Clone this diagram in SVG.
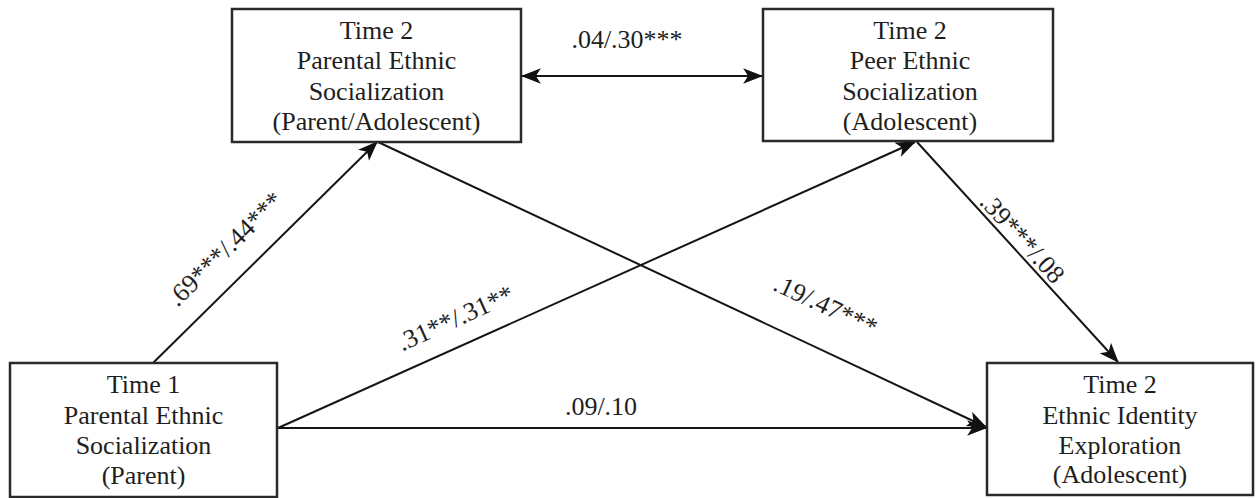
<svg xmlns="http://www.w3.org/2000/svg" width="1257" height="498" viewBox="0 0 1257 498">
  <style>
    .box { fill: #ffffff; stroke: #2a2a2a; stroke-width: 2.5; }
    .lbl { font-family: "Liberation Serif", "Times New Roman", serif; font-size: 26px; fill: #1e1e1e; text-anchor: middle; }
    .edge { stroke: #151515; stroke-width: 2; fill: none; }
  </style>
  <defs>
    <marker id="ah" markerUnits="userSpaceOnUse" markerWidth="20" markerHeight="16" viewBox="0 0 18 14" refX="17" refY="7" orient="auto-start-reverse">
      <path d="M0,0 L18,7 L0,14 L4.5,7 Z" fill="#111111"/>
    </marker>
  </defs>
  <rect width="1257" height="498" fill="#ffffff"/>

  <g id="connectors">
    <line class="edge" x1="153" y1="363" x2="377" y2="142" marker-end="url(#ah)"/>
    <line class="edge" x1="278" y1="428" x2="915" y2="142" marker-end="url(#ah)"/>
    <line class="edge" x1="277" y1="428" x2="986" y2="428" marker-end="url(#ah)"/>
    <line class="edge" x1="378" y1="142" x2="986" y2="427" marker-end="url(#ah)"/>
    <line class="edge" x1="917" y1="142" x2="1118" y2="362" marker-end="url(#ah)"/>
    <line class="edge" x1="522" y1="76" x2="762" y2="76" marker-start="url(#ah)" marker-end="url(#ah)"/>
    <text class="lbl" x="627" y="48">.04/.30***</text>
    <text class="lbl" x="601" y="415">.09/.10</text>
    <text class="lbl" transform="translate(231,255) rotate(-44.6)">.69***/.44***</text>
    <text class="lbl" transform="translate(459,326) rotate(-24.2)">.31**/.31**</text>
    <text class="lbl" transform="translate(822,313) rotate(25.1)">.19/.47***</text>
    <text class="lbl" transform="translate(1016,244) rotate(47.6)">.39***/.08</text>
  </g>

  <g id="t2-parental">
    <rect class="box" x="232" y="9" width="289" height="133"/>
    <text class="lbl" x="376.5" y="39">Time 2</text>
    <text class="lbl" x="376.5" y="69">Parental Ethnic</text>
    <text class="lbl" x="376.5" y="100">Socialization</text>
    <text class="lbl" x="376.5" y="130">(Parent/Adolescent)</text>
  </g>

  <g id="t2-peer">
    <rect class="box" x="763" y="9" width="290" height="132"/>
    <text class="lbl" x="910" y="39">Time 2</text>
    <text class="lbl" x="910" y="69">Peer Ethnic</text>
    <text class="lbl" x="910" y="100">Socialization</text>
    <text class="lbl" x="910" y="130">(Adolescent)</text>
  </g>

  <g id="t1-parental">
    <rect class="box" x="10" y="363" width="267" height="134"/>
    <text class="lbl" x="143.5" y="393">Time 1</text>
    <text class="lbl" x="143.5" y="424">Parental Ethnic</text>
    <text class="lbl" x="143.5" y="454">Socialization</text>
    <text class="lbl" x="143.5" y="484">(Parent)</text>
  </g>

  <g id="t2-identity">
    <rect class="box" x="987" y="363" width="266" height="132"/>
    <text class="lbl" x="1120" y="393">Time 2</text>
    <text class="lbl" x="1120" y="424">Ethnic Identity</text>
    <text class="lbl" x="1120" y="454">Exploration</text>
    <text class="lbl" x="1120" y="483">(Adolescent)</text>
  </g>
</svg>
